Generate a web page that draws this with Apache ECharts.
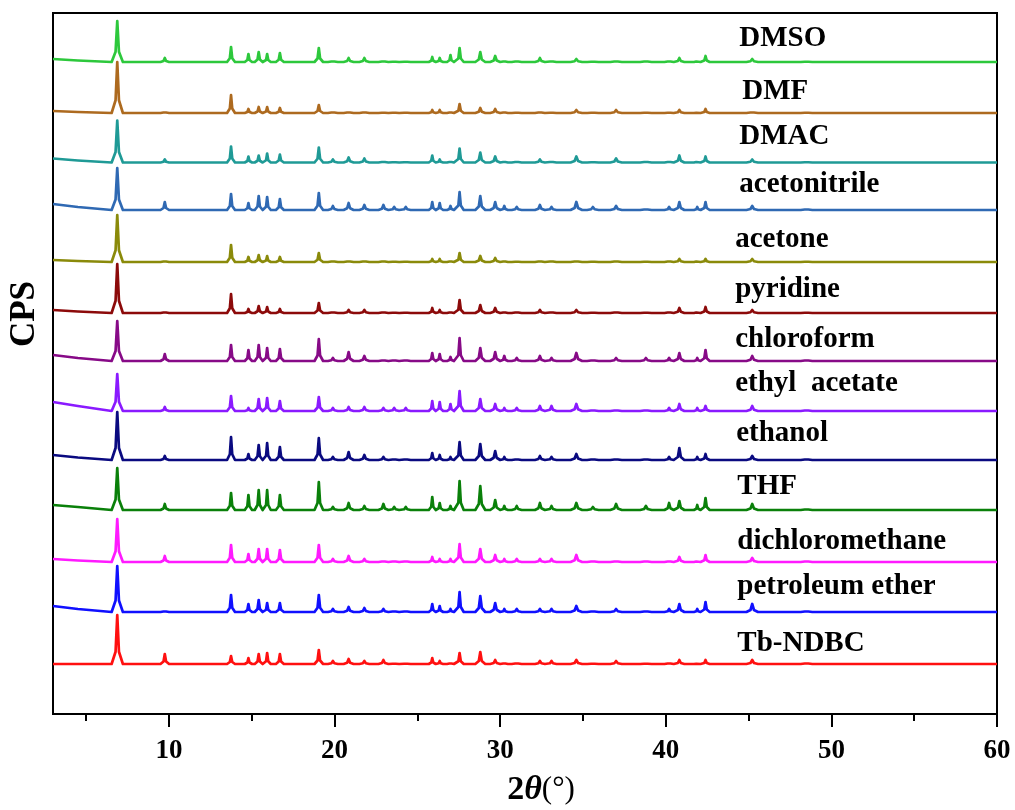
<!DOCTYPE html>
<html>
<head>
<meta charset="utf-8">
<script src="https://cdn.jsdelivr.net/npm/echarts@6/dist/echarts.min.js"></script>
<style>
  html, body { margin: 0; padding: 0; background: #ffffff; }
  #chart { width: 1015px; height: 810px; }
</style>
</head>
<body>
<div id="chart"></div>
<script>
// Stacked PXRD patterns of Tb-NDBC after soaking in different solvents.
const SAMPLES = ['DMSO', 'DMF', 'DMAC', 'acetonitrile', 'acetone', 'pyridine', 'chloroform',
  'ethyl  acetate', 'ethanol', 'THF', 'dichloromethane', 'petroleum ether', 'Tb-NDBC'];

const COLORS = ['#2DC83C', '#AD6A1F', '#1F9A96', '#2F69B3', '#8A8A0A', '#8C0A0A', '#870A87',
  '#8A1AFF', '#0A0A80', '#0A800A', '#FF1AFF', '#1010FF', '#FF1010'];

// vertical offset of each pattern in the stack
const OFFSETS = [652, 601, 551.5, 504, 452, 401, 353, 303, 254, 204, 152, 102, 50];

// background above the baseline at 2θ = 3° and 4.5°
const LEFT_RISE = [[3, 1.5], [2, 1], [4, 2], [6, 3], [2, 1], [3, 1.5], [6, 3],
  [9, 5], [5, 2.5], [5, 3], [3, 1.5], [6, 3], [0, 0]];

// reflection positions (2θ, degrees) and their half base widths
const PEAK_POS = [6.88, 9.75, 13.75, 14.8, 15.42, 15.93, 16.7, 19.05, 19.9, 20.85, 21.8,
  22.95, 23.6, 24.3, 25.9, 26.35, 27.0, 27.55, 28.8, 29.7, 30.25, 31.0, 32.4, 33.1,
  34.6, 35.6, 37.0, 38.8, 40.2, 40.82, 41.9, 42.4, 45.22, 48.5];
const PEAK_HALF_WIDTH = [0.34, 0.26, 0.24, 0.22, 0.24, 0.22, 0.24, 0.26, 0.3, 0.3, 0.3,
  0.3, 0.3, 0.3, 0.21, 0.21, 0.21, 0.25, 0.3, 0.3, 0.22, 0.3, 0.3, 0.3,
  0.35, 0.35, 0.35, 0.35, 0.28, 0.3, 0.2, 0.25, 0.35, 0.35];

// peak intensities of each pattern, in PEAK_POS order
const I_DMSO          = [41, 4, 15, 8, 10, 8, 9, 14, 2, 4, 4, 2, 1, 1, 5, 4, 7, 14, 10, 6, 2, 2, 4, 2, 3, 1, 2, 2, 2, 4, 2, 6, 3, 1];
const I_DMF           = [51, 2, 18, 4, 6, 6, 5, 8, 2, 2, 2, 1, 1, 1, 3, 3, 2, 9, 5, 4, 2, 1, 2, 1, 3, 1, 3, 1, 1, 3, 1, 4, 2, 1];
const I_DMAC          = [42, 3, 16, 6, 7, 9, 8, 15, 3, 5, 4, 2, 1, 1, 7, 3, 2, 14, 10, 6, 2, 2, 3, 2, 6, 1, 4, 2, 2, 7, 2, 6, 3, 1];
const I_ACETONITRILE  = [42, 8, 16, 7, 14, 13, 11, 17, 4, 7, 5, 5, 3, 3, 8, 7, 4, 18, 14, 8, 4, 3, 5, 3, 8, 3, 4, 2, 3, 8, 3, 8, 4, 2];
const I_ACETONE       = [47, 2, 17, 5, 7, 6, 5, 9, 2, 2, 2, 2, 1, 1, 3, 3, 2, 9, 6, 4, 2, 1, 2, 2, 2, 1, 2, 1, 2, 3, 2, 3, 3, 1];
const I_PYRIDINE      = [49, 2, 19, 4, 7, 6, 4, 10, 2, 3, 3, 2, 1, 1, 5, 3, 2, 13, 8, 5, 2, 2, 3, 2, 3, 1, 2, 1, 2, 5, 2, 6, 3, 1];
const I_CHLOROFORM    = [40, 7, 16, 11, 16, 13, 12, 22, 3, 9, 5, 2, 2, 2, 8, 7, 4, 23, 13, 9, 5, 3, 5, 3, 8, 2, 3, 3, 3, 8, 3, 11, 5, 2];
const I_ETHYL_ACETATE = [37, 4, 15, 3, 12, 13, 10, 14, 3, 4, 4, 3, 3, 3, 10, 9, 7, 20, 12, 7, 3, 3, 5, 5, 7, 2, 2, 2, 3, 7, 3, 5, 5, 2];
const I_ETHANOL       = [48, 4, 23, 6, 15, 17, 13, 22, 3, 8, 5, 3, 2, 2, 7, 5, 3, 18, 16, 9, 3, 2, 4, 3, 6, 2, 2, 2, 3, 12, 3, 6, 4, 2];
const I_THF           = [42, 6, 17, 15, 20, 20, 15, 28, 3, 7, 4, 6, 3, 3, 13, 7, 4, 29, 24, 10, 4, 4, 7, 4, 7, 3, 6, 4, 7, 9, 5, 12, 6, 2];
const I_DCM           = [43, 6, 17, 8, 13, 13, 12, 17, 3, 6, 3, 2, 2, 2, 5, 3, 3, 18, 13, 7, 3, 3, 3, 3, 7, 2, 2, 2, 2, 5, 2, 7, 4, 2];
const I_PET_ETHER     = [46, 2, 17, 8, 12, 9, 9, 17, 3, 5, 4, 3, 2, 2, 8, 6, 3, 20, 16, 9, 3, 3, 3, 3, 6, 2, 3, 2, 3, 8, 3, 10, 8, 2];
const I_TB_NDBC       = [49, 10, 8, 6, 10, 11, 10, 14, 3, 5, 3, 4, 1, 1, 6, 3, 2, 11, 12, 4, 2, 2, 3, 3, 4, 1, 3, 1, 2, 4, 1, 4, 4, 2];

const INTENSITIES = [I_DMSO, I_DMF, I_DMAC, I_ACETONITRILE, I_ACETONE, I_PYRIDINE, I_CHLOROFORM,
  I_ETHYL_ACETATE, I_ETHANOL, I_THF, I_DCM, I_PET_ETHER, I_TB_NDBC];

// where each sample name is written (2θ, stack height)
const LABEL_X = [44.44, 44.62, 44.44, 44.44, 44.19, 44.19, 44.19, 44.19, 44.25, 44.32, 44.32, 44.32, 44.32];
const LABEL_Y = [675, 622, 577, 529, 474, 424, 374, 330, 280, 227, 172, 127, 70];

const X_MIN = 3, X_MAX = 60;
const MAJOR_TICKS = [10, 20, 30, 40, 50, 60];
const MINOR_TICKS = [5, 15, 25, 35, 45, 55];

const SERIF = "'Liberation Serif', 'Times New Roman', serif";

// polyline of one pattern: background, then each reflection as a sharp profile
function pattern(i) {
  const b = OFFSETS[i];
  const h = INTENSITIES[i];
  const pts = [[X_MIN, b + LEFT_RISE[i][0]], [4.5, b + LEFT_RISE[i][1]]];
  PEAK_POS.forEach((p, k) => {
    const w = PEAK_HALF_WIDTH[k];
    pts.push([p - w, b], [p - w * 0.3, b + h[k] * 0.25], [p, b + h[k]],
             [p + w * 0.3, b + h[k] * 0.25], [p + w, b]);
  });
  pts.push([X_MAX, b]);
  return pts;
}

const series = SAMPLES.map((name, i) => ({
  name: name,
  type: 'line',
  data: pattern(i),
  showSymbol: false,
  symbol: 'none',
  silent: true,
  lineStyle: { color: COLORS[i], width: 2.7, join: 'round' },
  z: 3
}));

const chart = echarts.init(document.getElementById('chart'), null, { renderer: 'canvas' });
chart.setOption({
  animation: false,
  backgroundColor: '#ffffff',
  grid: {
    left: 53, right: 18, top: 13, bottom: 96,
    show: true, borderColor: '#000', borderWidth: 2, backgroundColor: 'transparent'
  },
  xAxis: [
    {
      type: 'value', min: X_MIN, max: X_MAX, position: 'bottom',
      axisLine: { show: true, lineStyle: { color: '#000', width: 2 } },
      axisTick: { show: true, inside: false, length: 13, lineStyle: { color: '#000', width: 2 },
        customValues: MAJOR_TICKS },
      axisLabel: { show: true, customValues: MAJOR_TICKS, margin: 24, color: '#000',
        fontFamily: SERIF, fontWeight: 'bold', fontSize: 27 },
      splitLine: { show: false }
    },
    {
      type: 'value', min: X_MIN, max: X_MAX, position: 'bottom',
      axisLine: { show: false },
      axisTick: { show: true, inside: false, length: 7, lineStyle: { color: '#000', width: 2 },
        customValues: MINOR_TICKS },
      axisLabel: { show: false, customValues: MINOR_TICKS },
      splitLine: { show: false }
    }
  ],
  yAxis: {
    type: 'value', min: 0, max: 701,
    axisLine: { show: true, lineStyle: { color: '#000', width: 2 } },
    axisTick: { show: false },
    axisLabel: { show: false },
    splitLine: { show: false }
  },
  series: series
});

// axis titles and sample names; name anchors go through the chart's own scales
const nameTexts = SAMPLES.map((name, i) => {
  const [px, py] = chart.convertToPixel({ xAxisIndex: 0, yAxisIndex: 0 }, [LABEL_X[i], LABEL_Y[i]]);
  return {
    type: 'text', x: px, y: py, z: 10,
    style: { text: name, fill: '#000', font: 'bold 29px ' + SERIF, align: 'left', verticalAlign: 'middle' }
  };
});

chart.setOption({
  graphic: [
    {
      type: 'text', x: 25, y: 314, rotation: Math.PI / 2,
      style: { text: 'CPS', fill: '#000', font: 'bold 35px ' + SERIF, align: 'center', verticalAlign: 'middle' }
    },
    {
      type: 'text', x: 541, y: 790,
      style: {
        text: '{n|2}{t|θ}{p|(°)}',
        align: 'center', verticalAlign: 'middle',
        rich: {
          n: { fontFamily: SERIF, fontWeight: 'bold', fontSize: 34, fill: '#000' },
          t: { fontFamily: SERIF, fontWeight: 'bold', fontStyle: 'italic', fontSize: 34, fill: '#000' },
          p: { fontFamily: SERIF, fontSize: 31, fill: '#000' }
        }
      }
    }
  ].concat(nameTexts)
});
</script>
</body>
</html>
